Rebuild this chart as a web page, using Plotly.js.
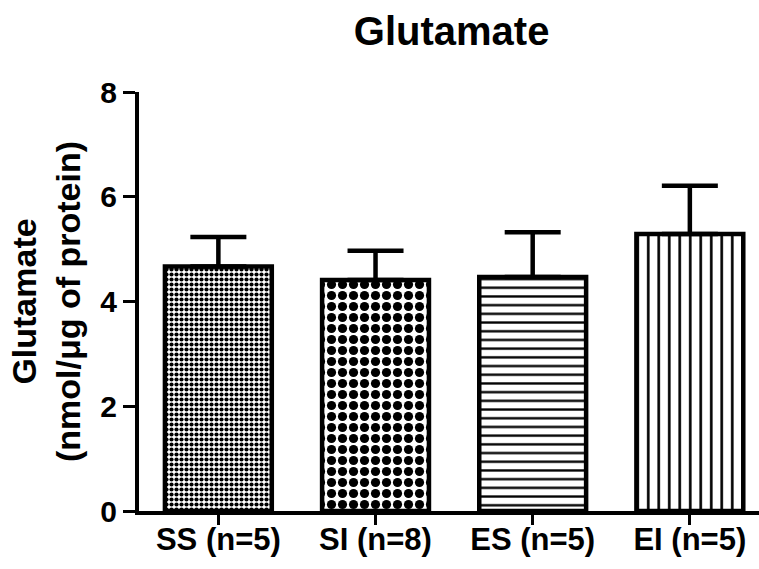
<!DOCTYPE html>
<html>
<head>
<meta charset="utf-8">
<script src="https://cdn.plot.ly/plotly-3.0.1.min.js"></script>
<style>html,body{margin:0;padding:0;background:#fff;}#chart{width:759px;height:569px;}</style>
</head>
<body>
<div id="chart"></div>
<script>
const categories = ["SS (n=5)", "SI (n=8)", "ES (n=5)", "EI (n=5)"];
const means = [4.67, 4.41, 4.47, 5.29];
const sem = [0.56, 0.56, 0.85, 0.92];
const yTicks = [0, 2, 4, 6, 8];

const patternShapes = [".", ".", "-", "|"];
const patternSizes = [5, 11, 8.7, 10.5];
const patternSolidity = [0.55, 0.55, 0.27, 0.25];

const font = "Liberation Sans, Arial, sans-serif";

const trace = {
  type: "bar",
  x: categories,
  y: means,
  width: 0.68,
  marker: {
    color: "black",
    line: {color: "black", width: 4.5},
    pattern: {
      shape: patternShapes,
      size: patternSizes,
      solidity: patternSolidity,
      fgcolor: "black",
      bgcolor: "white",
      fillmode: "replace"
    }
  },
  error_y: {
    type: "data",
    symmetric: false,
    array: sem,
    arrayminus: categories.map(() => 0),
    color: "black",
    thickness: 4.5,
    width: 28
  },
  hoverinfo: "skip"
};

const layout = {
  width: 759,
  height: 569,
  margin: {l: 139, r: 0, t: 92, b: 58},
  paper_bgcolor: "white",
  plot_bgcolor: "white",
  showlegend: false,
  title: {
    text: "<b>Glutamate</b>",
    font: {family: font, size: 40, color: "black"},
    x: 0.595, xanchor: "center",
    y: 0.945, yanchor: "middle"
  },
  xaxis: {
    type: "category",
    range: [-0.505, 3.44],
    showline: true,
    linecolor: "black",
    linewidth: 4,
    ticks: "outside",
    ticklen: 10,
    tickwidth: 3,
    tickcolor: "black",
    showgrid: false,
    zeroline: false,
    ticklabelstandoff: -12,
    tickfont: {family: font, size: 31, color: "black"},
    tickprefix: "<b>", ticksuffix: "</b>"
  },
  yaxis: {
    range: [0, 8],
    tickvals: yTicks,
    ticktext: yTicks.map(v => "<b>" + v + "</b>"),
    showline: true,
    linecolor: "black",
    linewidth: 4,
    ticks: "outside",
    ticklen: 12,
    tickwidth: 3,
    tickcolor: "black",
    showgrid: false,
    zeroline: false,
    tickfont: {family: font, size: 30, color: "black"},
    title: {
      text: "<b>Glutamate<br>(nmol/μg of protein)</b>",
      font: {family: font, size: 34, color: "black"},
      standoff: 10
    }
  }
};

Plotly.newPlot("chart", [trace], layout, {staticPlot: true, displayModeBar: false});
</script>
</body>
</html>
